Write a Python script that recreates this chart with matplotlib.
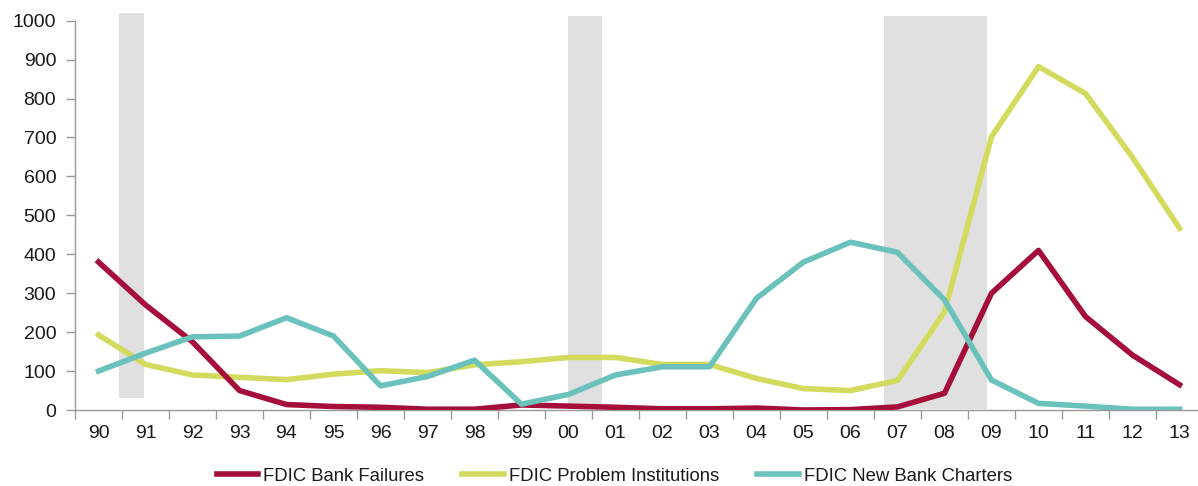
import matplotlib
matplotlib.use("Agg")
import matplotlib.pyplot as plt
import numpy as np

years = ["90", "91", "92", "93", "94", "95", "96", "97", "98", "99", "00", "01",
         "02", "03", "04", "05", "06", "07", "08", "09", "10", "11", "12", "13"]
bank_failures = [380, 270, 175, 50, 14, 9, 7, 2, 2, 13, 10, 7,
                 3, 3, 5, 0, 1, 8, 43, 300, 410, 240, 141, 65]
problem_institutions = [193, 117, 90, 84, 78, 92, 101, 96, 116, 124, 135, 135,
                        117, 117, 81, 55, 50, 76, 252, 702, 882, 813, 649, 467]
new_charters = [100, 146, 188, 190, 237, 190, 62, 86, 128, 15, 40, 90,
                111, 111, 287, 380, 431, 405, 283, 77, 17, 10, 2, 2]

# recession shading (in category-index units)
rec_start = [0.44, 9.99, 16.71]
rec_end = [0.96, 10.71, 18.90]
rec_bottom = [30, 10, 2]
rec_top = [1020, 1013, 1013]

plt.rcParams['font.family'] = ['Liberation Sans', 'DejaVu Sans']

fig = plt.figure(figsize=(11.98, 4.86), dpi=100)
ax = fig.add_axes([75 / 1198, 76 / 486, 1128 / 1198, 389.3 / 486])

x = np.arange(len(years))
for s, e, b, t in zip(rec_start, rec_end, rec_bottom, rec_top):
    ax.fill_between([s, e], [b, b], [t, t], color="#E0E0E0", lw=0,
                    zorder=1, clip_on=False)

ax.plot(x, problem_institutions, color="#D3DB5E", lw=4.0, zorder=3,
        label="FDIC Problem Institutions")
ax.plot(x, bank_failures, color="#A50D3B", lw=4.0, zorder=4,
        label="FDIC Bank Failures")
ax.plot(x, new_charters, color="#6BC2BC", lw=4.0, zorder=5,
        label="FDIC New Bank Charters")

ax.set_xlim(-0.5, len(years) - 0.5)
ax.set_ylim(0, 1000)
ax.set_yticks(np.arange(0, 1001, 100))

ax.set_xticks(np.arange(-0.5, len(years), 1.0))
ax.set_xticklabels([])
ax.set_xticks(x, minor=True)
ax.set_xticklabels(years, minor=True)
ax.tick_params(axis="x", which="major", length=6.5, width=1, color="#999999",
               direction="out")
ax.tick_params(axis="x", which="minor", length=0, pad=11, labelsize=14,
               labelcolor="#1A1A1A")
ax.tick_params(axis="y", length=6.5, width=1, color="#999999", pad=7,
               labelsize=14, labelcolor="#1A1A1A")

for side in ("top", "right"):
    ax.spines[side].set_visible(False)
for side in ("left", "bottom"):
    ax.spines[side].set_color("#999999")
    ax.spines[side].set_linewidth(1)

handles, labels = ax.get_legend_handles_labels()
order = [1, 0, 2]
leg = fig.legend([handles[i] for i in order], [labels[i] for i in order],
                 loc="center", bbox_to_anchor=(614.5 / 1198, 1 - 476 / 486),
                 ncol=3, frameon=False, fontsize=13.3, handlelength=2.27,
                 handletextpad=0.27, columnspacing=2.05)
for t in leg.get_texts():
    t.set_color("#1A1A1A")

fig.savefig("out.png", dpi=100)
